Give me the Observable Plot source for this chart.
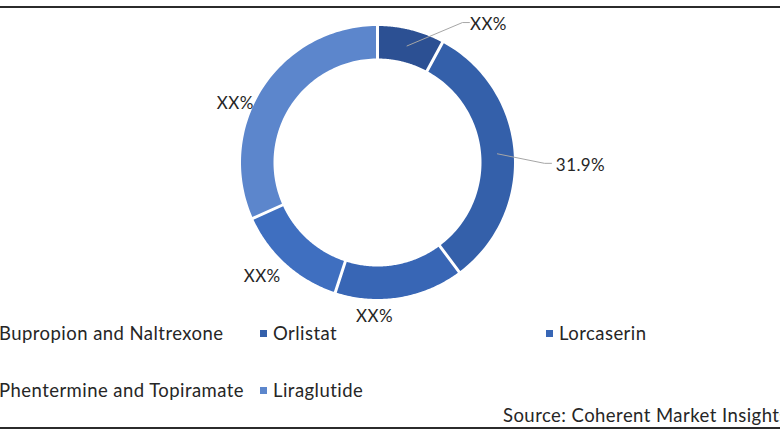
<!DOCTYPE html>
<html>
<head>
<meta charset="utf-8">
<script src="https://cdn.jsdelivr.net/npm/d3@7"></script>
<script src="https://cdn.jsdelivr.net/npm/@observablehq/plot@0.6"></script>
<style>
  body { margin: 0; background: #fff; }
  #wrap { position: relative; width: 780px; height: 440px; overflow: hidden; background: #fff;
          font-family: Lato, "Open Sans", sans-serif; color: #262626; }
  #chart { position: absolute; left: 0; top: 0; }
  .rule { position: absolute; left: 0; width: 780px; height: 2px; background: #2b2b2b; }
  .leg { position: absolute; font-size: 18.5px; letter-spacing: 0.45px; line-height: 20px; white-space: nowrap; display: flex; align-items: center; }
  .leg .sw { width: 7px; height: 7px; margin-right: 6px; flex: none; }
  #source { position: absolute; left: 503px; top: 405px; font-size: 18.5px; letter-spacing: 0.45px; line-height: 20px; white-space: nowrap; }
</style>
</head>
<body>
<div id="wrap">
  <div id="chart"></div>
  <div class="rule" style="top:6px"></div>
  <div class="rule" style="top:427px"></div>
  <div id="legend"></div>
  <div id="source"></div>
</div>
<script>
// ---- data ----
const categories = ["Bupropion and Naltrexone", "Orlistat", "Lorcaserin", "Phentermine and Topiramate", "Liraglutide"];
const shares = [7.9, 31.9, 15.2, 13.3, 31.7];
const valueLabels = ["XX%", "31.9%", "XX%", "XX%", "XX%"];
const colors = ["#2c5093", "#3460aa", "#3866b5", "#3f6fc0", "#5c86cc"];
const sourceText = "Source: Coherent Market Insights";

// ---- layout ----
const W = 780, H = 440, CX = 377, CY = 162, R_OUT = 136.5, R_IN = 104, GAP = 3;
const labelPolar = [[38.8, 177], [90.8, 203], [181.1, 154], [225.4, 162], [292.5, 154]]; // [deg, px]
const hasLeader = [true, true, false, false, false];
const legendCols = [-14, 260, 546];
const legendRows = [333, 390];
const legendOrder = [[0, 0], [0, 1], [0, 2], [1, 0], [1, 1]]; // [row, col] per category

const table = categories.map((c, i) => ({cat: c, share: shares[i], label: valueLabels[i], color: colors[i]}));
const arcs = d3.pie().sort(null).value(d => d.share)(table);

const pt = (a, r) => ({x: r * Math.sin(a), y: -r * Math.cos(a)});
const ringPolys = arcs.map(a => {
  const pts = [];
  const n = 80;
  const oo = (GAP / 2) / R_OUT, oi = (GAP / 2) / R_IN;
  for (let k = 0; k <= n; k++) {
    const t = a.startAngle + oo + (a.endAngle - a.startAngle - 2 * oo) * k / n;
    pts.push({...pt(t, R_OUT), cat: a.data.cat});
  }
  for (let k = n; k >= 0; k--) {
    const t = a.startAngle + oi + (a.endAngle - a.startAngle - 2 * oi) * k / n;
    pts.push({...pt(t, R_IN), cat: a.data.cat});
  }
  return {color: a.data.color, pts};
});

const labelData = arcs.map((a, i) => {
  const [deg, r] = labelPolar[i];
  return {...pt(deg * Math.PI / 180, r), text: a.data.label};
});

const leaderData = [];
arcs.forEach((a, i) => {
  if (!hasLeader[i]) return;
  const mid = (a.startAngle + a.endAngle) / 2;
  const s = pt(mid, (R_OUT + R_IN) / 2);
  const lab = labelData[i];
  const halfW = a.data.label.length * 5;
  leaderData.push({...s, id: i});
  leaderData.push({x: lab.x - halfW - 11, y: lab.y - 2, id: i});
  leaderData.push({x: lab.x - halfW - 4, y: lab.y - 2, id: i});
});

const plot = Plot.plot({
  width: W, height: H,
  margin: 0,
  x: {domain: [-CX, W - CX], range: [0, W], axis: null},
  y: {domain: [-CY, H - CY], range: [0, H], axis: null},
  style: {fontFamily: "Lato, 'Open Sans', sans-serif", background: "transparent", overflow: "visible", letterSpacing: "0.4px"},
  marks: [
    ...ringPolys.map(p => Plot.line(p.pts, {x: "x", y: "y", curve: "linear-closed", fill: p.color, stroke: null})),
    Plot.line(leaderData, {x: "x", y: "y", z: "id", stroke: "#a6a6a6", strokeWidth: 1}),
    Plot.text(labelData, {x: "x", y: "y", text: "text", fontSize: 17, fill: "#262626"})
  ]
});
document.getElementById("chart").appendChild(plot);

const legend = document.getElementById("legend");
table.forEach((d, i) => {
  const [r, c] = legendOrder[i];
  const el = document.createElement("div");
  el.className = "leg";
  el.style.left = legendCols[c] + "px";
  el.style.top = (legendRows[r] - 10) + "px";
  el.innerHTML = `<span class="sw" style="background:${d.color}"></span><span>${d.cat}</span>`;
  legend.appendChild(el);
});
document.getElementById("source").textContent = sourceText;
</script>
</body>
</html>
